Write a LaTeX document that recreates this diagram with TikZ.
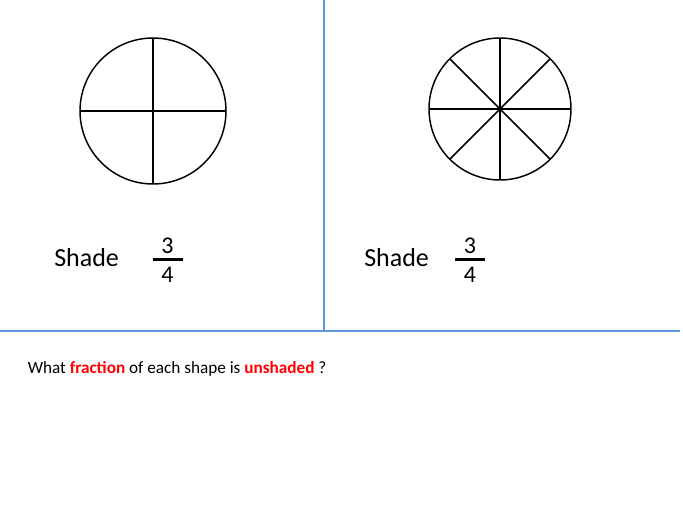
\documentclass[tikz,border=0pt]{standalone}
\usepackage{fontspec}
\setmainfont{Carlito}
\definecolor{divblue}{RGB}{91,155,213}
\definecolor{hotred}{RGB}{255,0,0}
\newcommand{\stackfrac}[2]{\vbox{\hbox to 22.5pt{\hfil #1\hfil}\kern3.75pt\hrule height 1.9pt\kern4.5pt\hbox to 22.5pt{\hfil #2\hfil}}}
\begin{document}
\begin{tikzpicture}[x=0.75pt,y=-0.75pt,
  divider/.style={draw=divblue,line width=1.5pt},
  pie/.style={circle,draw=black,line width=1.1pt,inner sep=0pt,outer sep=0pt},
  spoke/.style={draw=black,line width=1.1pt},
  shadelbl/.style={font=\fontsize{19.5}{22}\selectfont,inner sep=0pt,anchor=base west},
  fracnode/.style={font=\fontsize{18}{20}\selectfont,inner sep=0pt,anchor=north},
  question/.style={font=\fontsize{12.9}{15}\selectfont,inner sep=0pt,anchor=base west}]
\useasboundingbox[fill=white] (0,0) rectangle (683,510);
% dividers
\coordinate (vtop) at (324,0);
\coordinate (vbot) at (324,331);
\coordinate (hl) at (0,331);
\coordinate (hr) at (680,331);
\draw[divider] (vtop) -- (vbot);
\draw[divider] (hl) -- (hr);
% circle 1
\node[pie,minimum size=109.5pt] (c1) at (153,111) {};
\draw[spoke] (c1.north) -- (c1.south);
\draw[spoke] (c1.west) -- (c1.east);
% circle 2
\node[pie,minimum size=106.5pt] (c2) at (500,109) {};
\draw[spoke] (c2.north) -- (c2.south);
\draw[spoke] (c2.west) -- (c2.east);
\draw[spoke] (c2.45) -- (c2.225);
\draw[spoke] (c2.135) -- (c2.315);
% labels
\node[shadelbl] (s1) at (54,266.7) {Shade};
\node[fracnode] (f1) at (167.5,237.2) {\stackfrac{3}{4}};
\node[shadelbl] (s2) at (364,266.7) {Shade};
\node[fracnode] (f2) at (470,237.2) {\stackfrac{3}{4}};
\node[question] (q) at (27.5,373.3) {What \textcolor{hotred}{\textbf{fraction}} of each shape is \textcolor{hotred}{\textbf{unshaded}} ?};
\end{tikzpicture}
\end{document}
